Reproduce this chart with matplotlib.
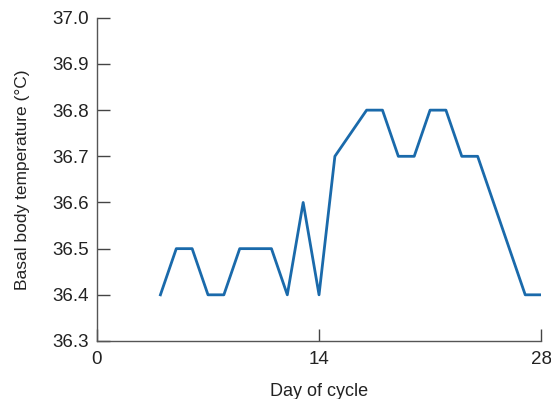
import matplotlib
matplotlib.use('Agg')
from matplotlib import pyplot as plt

days = [4, 5, 6, 7, 8, 9, 10, 11, 12, 13, 14, 15, 16, 17, 18, 19, 20, 21, 22, 23, 24, 25, 26, 27, 28]
temps = [36.4, 36.5, 36.5, 36.4, 36.4, 36.5, 36.5, 36.5, 36.4, 36.6, 36.4, 36.7, 36.75, 36.8, 36.8,
         36.7, 36.7, 36.8, 36.8, 36.7, 36.7, 36.6, 36.5, 36.4, 36.4]
xticks = [0, 14, 28]
yticks = [36.3, 36.4, 36.5, 36.6, 36.7, 36.8, 36.9, 37.0]

plt.rcParams['font.family'] = ['Liberation Sans', 'DejaVu Sans']

fig = plt.figure(figsize=(5.51, 3.99), dpi=100)
ax = fig.add_axes([0.176, 0.1454, 0.806, 0.81])
ax.plot(days, temps, color='#1a6aab', linewidth=2)

ax.set_xlim(0, 28)
ax.set_ylim(36.3, 37.0)
ax.set_xticks(xticks)
ax.set_yticks(yticks)
ax.set_yticklabels(['%.1f' % v for v in yticks])
ax.tick_params(axis='both', direction='in', length=9, width=1, colors='#444444',
               labelcolor='#222222', labelsize=13.5)
ax.tick_params(axis='x', pad=7)
ax.tick_params(axis='y', pad=6)
for s in ['top', 'right']:
    ax.spines[s].set_visible(False)
for s in ['left', 'bottom']:
    ax.spines[s].set_color('#555555')
    ax.spines[s].set_linewidth(1)

ax.set_xlabel('Day of cycle', fontsize=13, color='#222222', labelpad=11)
ax.set_ylabel('Basal body temperature (°C)', fontsize=12.5, color='#222222', labelpad=16)

fig.savefig('out.png', dpi=100)
